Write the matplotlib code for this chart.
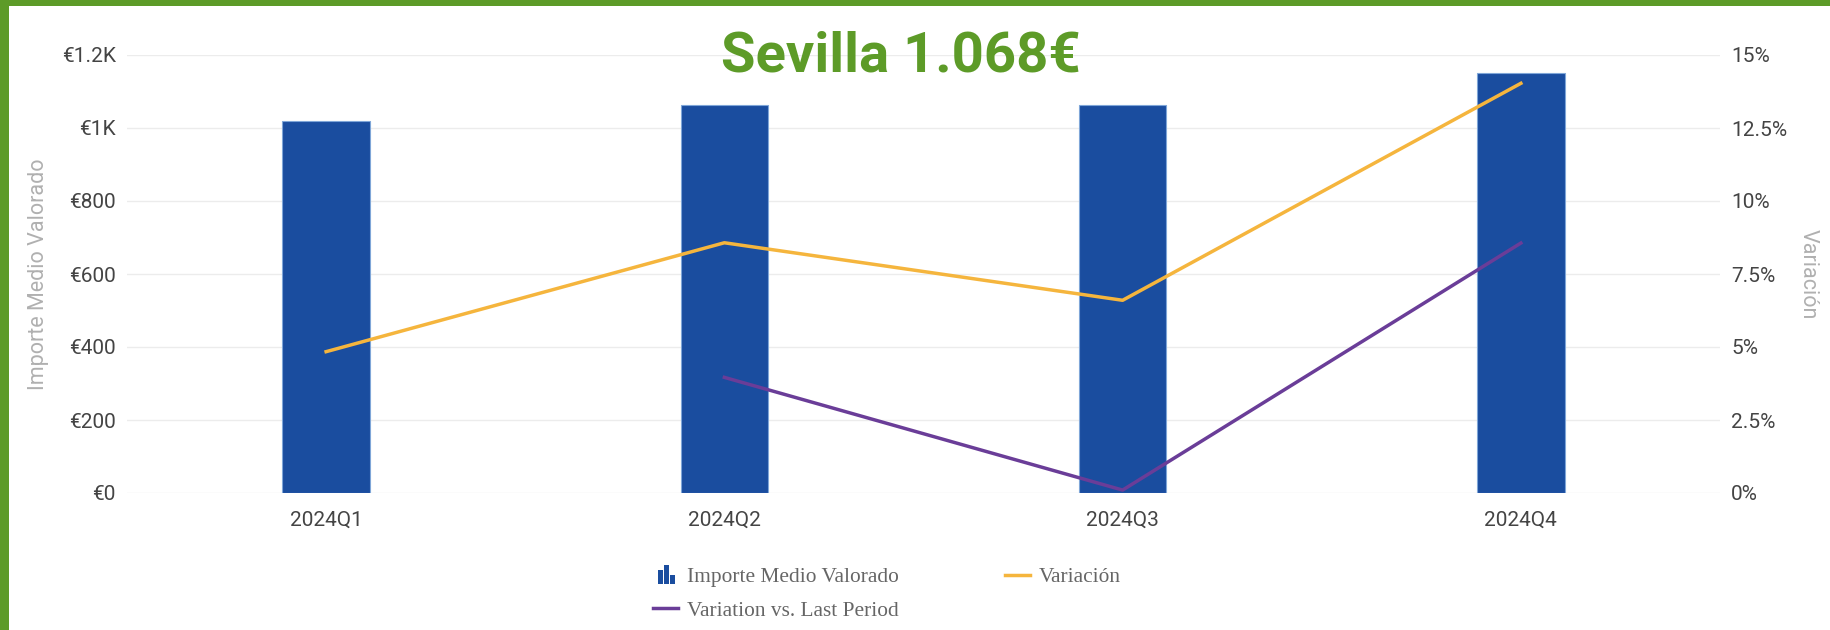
import numpy as np
import matplotlib
matplotlib.use('Agg')
import matplotlib.pyplot as plt
from matplotlib.patches import Rectangle
from matplotlib.legend_handler import HandlerBase
from matplotlib.ticker import FixedLocator

# data
quarters = ['2024Q1', '2024Q2', '2024Q3', '2024Q4']
importe = [1020, 1063, 1063, 1151]
variacion = [4.84, 8.57, 6.6, 14.03]
var_last = [np.nan, 3.96, 0.1, 8.56]
left_ticks = [0, 200, 400, 600, 800, 1000, 1200]
left_labels = ['€0', '€200', '€400', '€600', '€800', '€1K', '€1.2K']
right_ticks = [0, 2.5, 5, 7.5, 10, 12.5, 15]
right_labels = ['0%', '2.5%', '5%', '7.5%', '10%', '12.5%', '15%']
title = 'Sevilla 1.068€'

BLUE = '#1a4d9f'
ORANGE = '#f5b53d'
PURPLE = '#6a3d98'
GREEN = '#5d9b28'
TICK_C = '#444444'
AXT_C = '#b0b0b0'


class BarIconHandler(HandlerBase):
    # small "bar chart" glyph used by the legend
    def create_artists(self, legend, orig_handle, xdescent, ydescent,
                       width, height, fontsize, trans):
        arts = []
        hs = [0.8, 1.1, 0.5]
        w = width * 0.2
        x0 = xdescent + width * 0.2
        for i, h in enumerate(hs):
            r = Rectangle((x0 + i * width * 0.24, -ydescent - height * 0.1),
                          w, height * h * 1.15, facecolor=BLUE, edgecolor='none',
                          transform=trans)
            arts.append(r)
        return arts


fig = plt.figure(figsize=(18.3, 6.3), dpi=100)
ax = fig.add_axes([127 / 1830, 1 - 493 / 630, (1720 - 127) / 1830, (493 - 55) / 630])
x = np.arange(len(quarters))

bars = ax.bar(x, importe, width=0.22, color=BLUE, edgecolor='#7fa6d8', linewidth=0.8, zorder=2)
ax.set_xlim(-0.5, 3.5)
ax.set_ylim(0, 1200)
ax.yaxis.set_major_locator(FixedLocator(left_ticks))
ax.set_yticklabels(left_labels)
ax.set_xticks(x)
ax.set_xticklabels(quarters)
ax.grid(axis='y', color='#ececec', linewidth=1, zorder=0)
ax.set_axisbelow(True)
for s in ax.spines.values():
    s.set_visible(False)
ax.tick_params(axis='both', length=0, colors=TICK_C, labelsize=15)
ax.tick_params(axis='y', pad=8)
ax.tick_params(axis='x', pad=13)
for lab in ax.get_xticklabels() + ax.get_yticklabels():
    lab.set_fontfamily('Roboto')
ax.set_ylabel('Importe Medio Valorado', color=AXT_C, fontsize=15.5, family='Roboto', labelpad=9)

ax2 = ax.twinx()
ax2.set_ylim(0, 15)
ax2.yaxis.set_major_locator(FixedLocator(right_ticks))
ax2.set_yticklabels(right_labels)
for s in ax2.spines.values():
    s.set_visible(False)
ax2.tick_params(axis='y', length=0, colors=TICK_C, labelsize=15, pad=8)
for lab in ax2.get_yticklabels():
    lab.set_fontfamily('Roboto')
ax2.set_ylabel('Variación', color=AXT_C, fontsize=15.5, family='Roboto', rotation=270, labelpad=23)

l1, = ax2.plot(x, variacion, color=ORANGE, linewidth=2.5, zorder=3)
l2, = ax2.plot(x, var_last, color=PURPLE, linewidth=2.5, zorder=3)

fig.text(901 / 1830, 1 - 57 / 630, title, ha='center', va='center',
         fontsize=40.5, fontweight='bold', color=GREEN, family='Roboto')

leg = fig.legend([bars, l2, l1],
                 ['Importe Medio Valorado', 'Variation vs. Last Period', 'Variación'],
                 handler_map={type(bars): BarIconHandler()},
                 ncol=2, loc='center', bbox_to_anchor=(887 / 1830, 1 - 594 / 630),
                 frameon=False, prop={'family': 'Liberation Serif', 'size': 15.4},
                 handlelength=1.15, handletextpad=0.4, columnspacing=5.0,
                 labelspacing=0.62, labelcolor='#666666')

# green frame
fig.patches.append(Rectangle((0, 0), 9 / 1830, 1, transform=fig.transFigure,
                             facecolor=GREEN, edgecolor='none', zorder=10))
fig.patches.append(Rectangle((0, 1 - 6 / 630), 1, 6 / 630, transform=fig.transFigure,
                             facecolor=GREEN, edgecolor='none', zorder=10))

fig.savefig('out.png', dpi=100)
